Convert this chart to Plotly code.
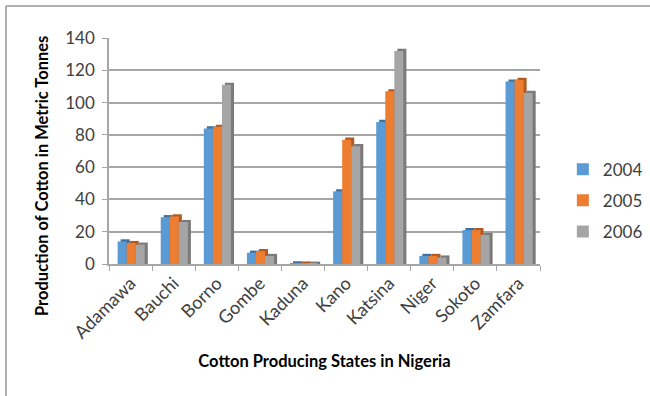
import plotly.graph_objects as go

states = ["Adamawa", "Bauchi", "Borno", "Gombe", "Kaduna", "Kano", "Katsina", "Niger", "Sokoto", "Zamfara"]
y2004 = [14, 29, 84, 7, 0.4, 45, 88, 5, 21, 113]
y2005 = [13, 29.5, 85, 8, 0.3, 77, 107, 5, 21, 114]
y2006 = [12, 26, 111, 5, 0.2, 73, 132, 4, 18, 106]
years = ["2004", "2005", "2006"]
x_title = "Cotton Producing States in Nigeria"
y_title = "Production of Cotton in Metric Tonnes"

series = [y2004, y2005, y2006]
colors = ["#5b9bd5", "#ed7d31", "#a5a5a5"]
dark = ["#3f6f9e", "#b05b22", "#7a7a7a"]
offsets = [-0.30, -0.09, 0.12]
W = 0.21

font = "Lato, 'Liberation Sans', sans-serif"
fig = go.Figure()
for i, (vals, name) in enumerate(zip(series, years)):
    fig.add_trace(go.Bar(
        x=states, y=[v + 1.3 for v in vals], width=W, offset=offsets[i] + 0.07,
        marker=dict(color=dark[i], line=dict(width=0)), showlegend=False,
        legendgroup=name, hoverinfo="skip"))
    fig.add_trace(go.Bar(
        x=states, y=vals, width=W, offset=offsets[i], name=name,
        marker=dict(color=colors[i], line=dict(width=0)), legendgroup=name))

fig.update_layout(
    width=650, height=396,
    barmode="overlay",
    paper_bgcolor="white", plot_bgcolor="white",
    margin=dict(l=109, r=110, t=38, b=132, autoexpand=False),
    font=dict(family=font, size=17, color="#404040"),
    legend=dict(x=1.053, y=0.28, xanchor="left", yanchor="middle",
                font=dict(size=17, color="#404040"), tracegroupgap=6,
                bgcolor="rgba(0,0,0,0)"),
    xaxis=dict(
        showgrid=False, showline=True, linecolor="#a6a6a6", linewidth=1.5,
        ticks="outside", ticklen=5, tickcolor="#a6a6a6", tickson="boundaries",
        tickangle=-45, tickfont=dict(size=18, color="#404040"),
        title=dict(text="<b>" + x_title + "</b>",
                   font=dict(size=16.5, color="#000"), standoff=14)),
    yaxis=dict(
        range=[0, 140], dtick=20, showgrid=True, gridcolor="#a6a6a6", gridwidth=1.5,
        showline=True, linecolor="#a6a6a6", linewidth=1.5, zeroline=False,
        ticks="outside", ticklen=5, tickcolor="#a6a6a6", ticklabelstandoff=4,
        tickfont=dict(size=17, color="#404040")),
    annotations=[
        dict(text="<b>" + y_title + "</b>", textangle=-90, showarrow=False,
             xref="paper", yref="paper", x=(42 - 109) / 431, y=(264 - 176) / 226,
             xanchor="center", yanchor="middle",
             font=dict(size=16.5, color="#000", family=font)),
    ],
    shapes=[
        dict(type="line", xref="paper", yref="paper", x0=-103/431, x1=541/431,
             y0=1 + 32/226, y1=1 + 32/226, line=dict(color="#969696", width=1.5)),
        dict(type="line", xref="paper", yref="paper", x0=-103/431, x1=-103/431,
             y0=1 + 32/226, y1=-132/226, line=dict(color="#969696", width=1.5)),
    ],
)

fig.write_html("out.html")
